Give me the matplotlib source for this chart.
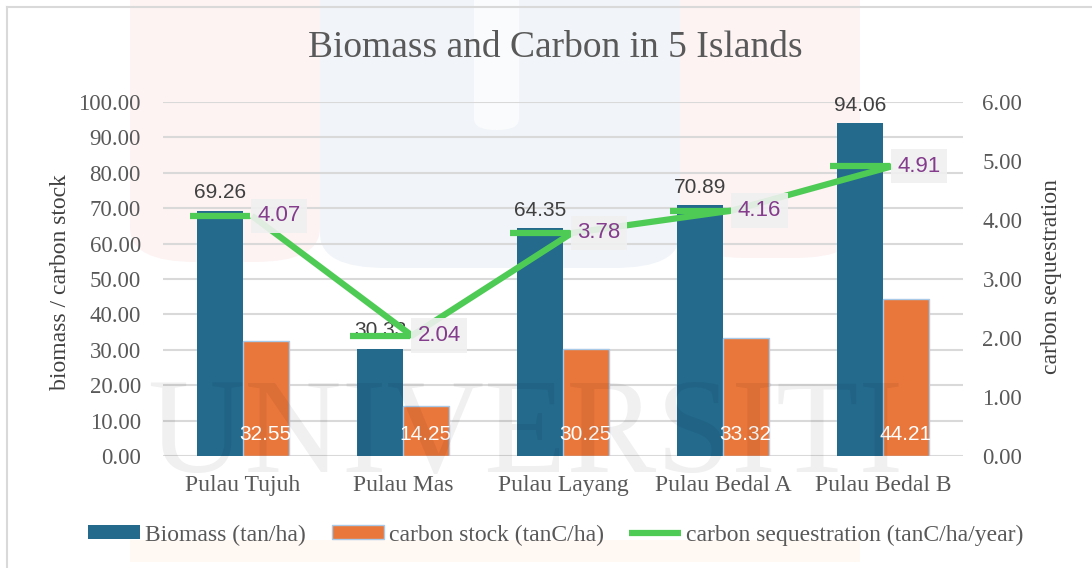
import matplotlib
matplotlib.use("Agg")
import matplotlib.pyplot as plt
from matplotlib.patches import FancyBboxPatch, Rectangle
from matplotlib.lines import Line2D
import numpy as np

islands = ["Pulau Tujuh", "Pulau Mas", "Pulau Layang", "Pulau Bedal A", "Pulau Bedal B"]
biomass = [69.26, 30.33, 64.35, 70.89, 94.06]
carbon_stock = [32.55, 14.25, 30.25, 33.32, 44.21]
sequestration = [4.07, 2.04, 3.78, 4.16, 4.91]

BLUE = "#236A8D"
ORANGE = "#E9763A"
GREEN = "#4ECB55"
PURPLE = "#843C8C"
GREY = "#595959"
SERIF = "Liberation Serif"
SANS = "Liberation Sans"

W, H = 1092, 568
fig = plt.figure(figsize=(W / 100, H / 100), dpi=100)


def fx(px):
    return px / W


def fy(py):
    return 1 - py / H


# faint watermark shapes behind the chart
for x0, x1, y1, col in [(320, 680, 268, "#F1F5F9"), (130, 320, 262, "#FDF3F3"),
                        (680, 860, 258, "#FDF3F3")]:
    fig.patches.append(FancyBboxPatch((fx(x0), fy(y1)), fx(x1 - x0), fy(-40) - fy(y1),
                                      boxstyle="round,pad=0,rounding_size=0.06",
                                      transform=fig.transFigure, fc=col, ec="none", zorder=-3))
fig.patches.append(FancyBboxPatch((fx(474), fy(130)), fx(45), fy(-40) - fy(130),
                                  boxstyle="round,pad=0,rounding_size=0.02",
                                  transform=fig.transFigure, fc="#FAFBFC", ec="none", zorder=-2))
fig.patches.append(Rectangle((fx(130), fy(562)), fx(730), fy(540) - fy(562),
                             transform=fig.transFigure, fc="#FFF8F3", ec="none", zorder=-3))

# chart border (top and left visible)
fig.lines.append(Line2D([fx(7), fx(7)], [fy(7), -0.1], transform=fig.transFigure,
                        color="#D9D9D9", lw=1.5, zorder=-1))
fig.lines.append(Line2D([fx(7), 1.1], [fy(7), fy(7)], transform=fig.transFigure,
                        color="#D9D9D9", lw=1.5, zorder=-1))

ax = fig.add_axes([fx(163), fy(456), fx(963 - 163), fy(102) - fy(456)])
ax.set_facecolor("none")
ax2 = ax.twinx()
ax2.set_facecolor("none")

x = np.arange(len(islands))
w = 0.285
b1 = ax.bar(x - w / 2, biomass, w, color=BLUE, zorder=2, label="Biomass (tan/ha)")
b2 = ax.bar(x + w / 2, carbon_stock, w, color=ORANGE, edgecolor="#A9C9E8", linewidth=1,
            zorder=2, label="carbon stock (tanC/ha)")

for xi, v in zip(x, biomass):
    ax.annotate(f"{v:.2f}", (xi - w / 2, v), xytext=(0, 9), textcoords="offset points",
                ha="center", va="baseline", fontsize=15, color="#404040", family=SANS)
for xi, v in zip(x, carbon_stock):
    ax.annotate(f"{v:.2f}", (xi + w / 2, 0), xytext=(0, 11.5), textcoords="offset points",
                ha="center", va="baseline", fontsize=15, color="white", family=SANS)

ax.set_ylim(0, 100)
ax.set_xlim(-0.5, len(islands) - 0.5)
ax.set_yticks(np.arange(0, 101, 10))
ax.set_yticklabels([f"{t:.2f}" for t in np.arange(0, 101, 10)])
ax.set_xticks(x)
ax.set_xticklabels(islands)
ax.grid(axis="y", color="#D9D9D9", lw=1.5, zorder=0)
ax.set_axisbelow(True)
for s in ax.spines.values():
    s.set_visible(False)
ax.tick_params(axis="y", length=0, pad=16, labelsize=16.5, labelcolor=GREY)
ax.tick_params(axis="x", length=0, pad=14, labelsize=17, labelcolor=GREY)
for lab in ax.get_xticklabels() + ax.get_yticklabels():
    lab.set_family(SERIF)

# line + dash markers
ln, = ax2.plot(x + 0.056, sequestration, color=GREEN, lw=4.5, zorder=3,
               solid_capstyle="butt", label="carbon sequestration (tanC/ha/year)")
ax2.plot(x - w / 2, sequestration, ls="none", marker="_", markersize=43,
         markeredgewidth=4.5, color=GREEN, zorder=3)
for xi, v in zip(x, sequestration):
    ax2.annotate(f"{v:.2f}", (xi + 0.056, v), xytext=(4, 0), textcoords="offset points",
                 ha="left", va="center", fontsize=16, color=PURPLE, family=SANS,
                 bbox=dict(boxstyle="square,pad=0.3", fc="#F0F0F0", ec="none", alpha=0.9),
                 zorder=4)
ax2.set_ylim(0, 6)
ax2.set_yticks(np.arange(0, 7, 1))
ax2.set_yticklabels([f"{t:.2f}" for t in range(7)])
for s in ax2.spines.values():
    s.set_visible(False)
ax2.tick_params(axis="y", length=0, pad=14, labelsize=16.5, labelcolor=GREY)
for lab in ax2.get_yticklabels():
    lab.set_family(SERIF)

fig.text(fx(555), fy(48), "Biomass and Carbon in 5 Islands", ha="center", va="center",
         fontsize=27, color=GREY, family=SERIF)
fig.text(fx(60), fy(282), "biomass / carbon stock", rotation=90, ha="center", va="center",
         fontsize=17, color="#404040", family=SERIF)
fig.text(fx(1052), fy(277), "carbon sequestration", rotation=90, ha="center", va="center",
         fontsize=17, color="#404040", family=SERIF)

fig.legend(handles=[b1, b2, ln], loc="center", bbox_to_anchor=(fx(556), fy(535)),
           ncol=3, frameon=False, handlelength=2.2, handleheight=0.55, handletextpad=0.2,
           columnspacing=1.1, prop={"family": SERIF, "size": 17},
           labelcolor=GREY)

# watermark text over everything, very faint
fig.text(fx(525), fy(472), "UNIVERSITI", ha="center", va="baseline", fontsize=97,
         family=SERIF, color="black", alpha=0.06, zorder=10)

fig.savefig("out.png", dpi=100)
